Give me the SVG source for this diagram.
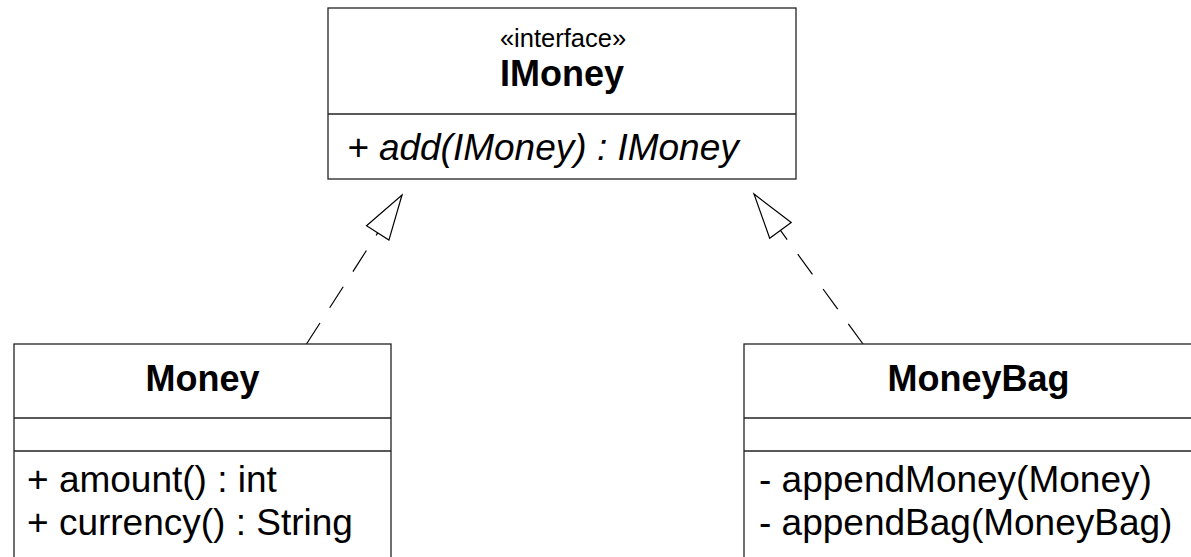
<svg xmlns="http://www.w3.org/2000/svg" width="1191" height="557" viewBox="0 0 1191 557">
<style>
.box{fill:#fff;stroke:#222;stroke-width:1.3}
.div{stroke:#222;stroke-width:1.3}
text{font-family:"Liberation Sans",Arial,Helvetica,sans-serif;fill:#000}
.name{font-size:36px;font-weight:bold;text-anchor:middle}
.stereo{font-size:25.5px;text-anchor:middle}
.op{font-size:37px}
.abs{font-style:italic}
.dep{fill:none;stroke:#000;stroke-width:1.2;stroke-dasharray:25 18}
</style>
<defs>
<marker id="realize" markerUnits="userSpaceOnUse" orient="auto" refX="45" refY="0" markerWidth="50" markerHeight="30" overflow="visible">
<path d="M0,-13.3 L45,0 L0,13.3 Z" fill="#fff" stroke="#000" stroke-width="1.2" stroke-dasharray="none"/>
</marker>
</defs>
<g id="connectors">
<path class="dep" d="M306.5,344 L402,195" marker-end="url(#realize)"/>
<path class="dep" d="M863,344 L754,194" marker-end="url(#realize)"/>
</g>
<g id="IMoney">
<rect class="box" x="328" y="8" width="468" height="171"/>
<line class="div" x1="328" y1="114" x2="796" y2="114"/>
<text class="stereo" x="563" y="47">«interface»</text>
<text class="name" x="562" y="85.5">IMoney</text>
<text class="op abs" x="347" y="160">+ add(IMoney) : IMoney</text>
</g>
<g id="Money">
<rect class="box" x="14" y="344" width="377" height="230"/>
<line class="div" x1="14" y1="418" x2="391" y2="418"/>
<line class="div" x1="14" y1="451" x2="391" y2="451"/>
<text class="name" x="202.5" y="391">Money</text>
<text class="op" x="27" y="492">+ amount() : int</text>
<text class="op" x="27" y="535">+ currency() : String</text>
</g>
<g id="MoneyBag">
<rect class="box" x="744" y="344" width="468" height="230"/>
<line class="div" x1="744" y1="418" x2="1212" y2="418"/>
<line class="div" x1="744" y1="451" x2="1212" y2="451"/>
<text class="name" x="978.5" y="391">MoneyBag</text>
<text class="op" x="759" y="492">- appendMoney(Money)</text>
<text class="op" x="759" y="535">- appendBag(MoneyBag)</text>
</g>
</svg>
